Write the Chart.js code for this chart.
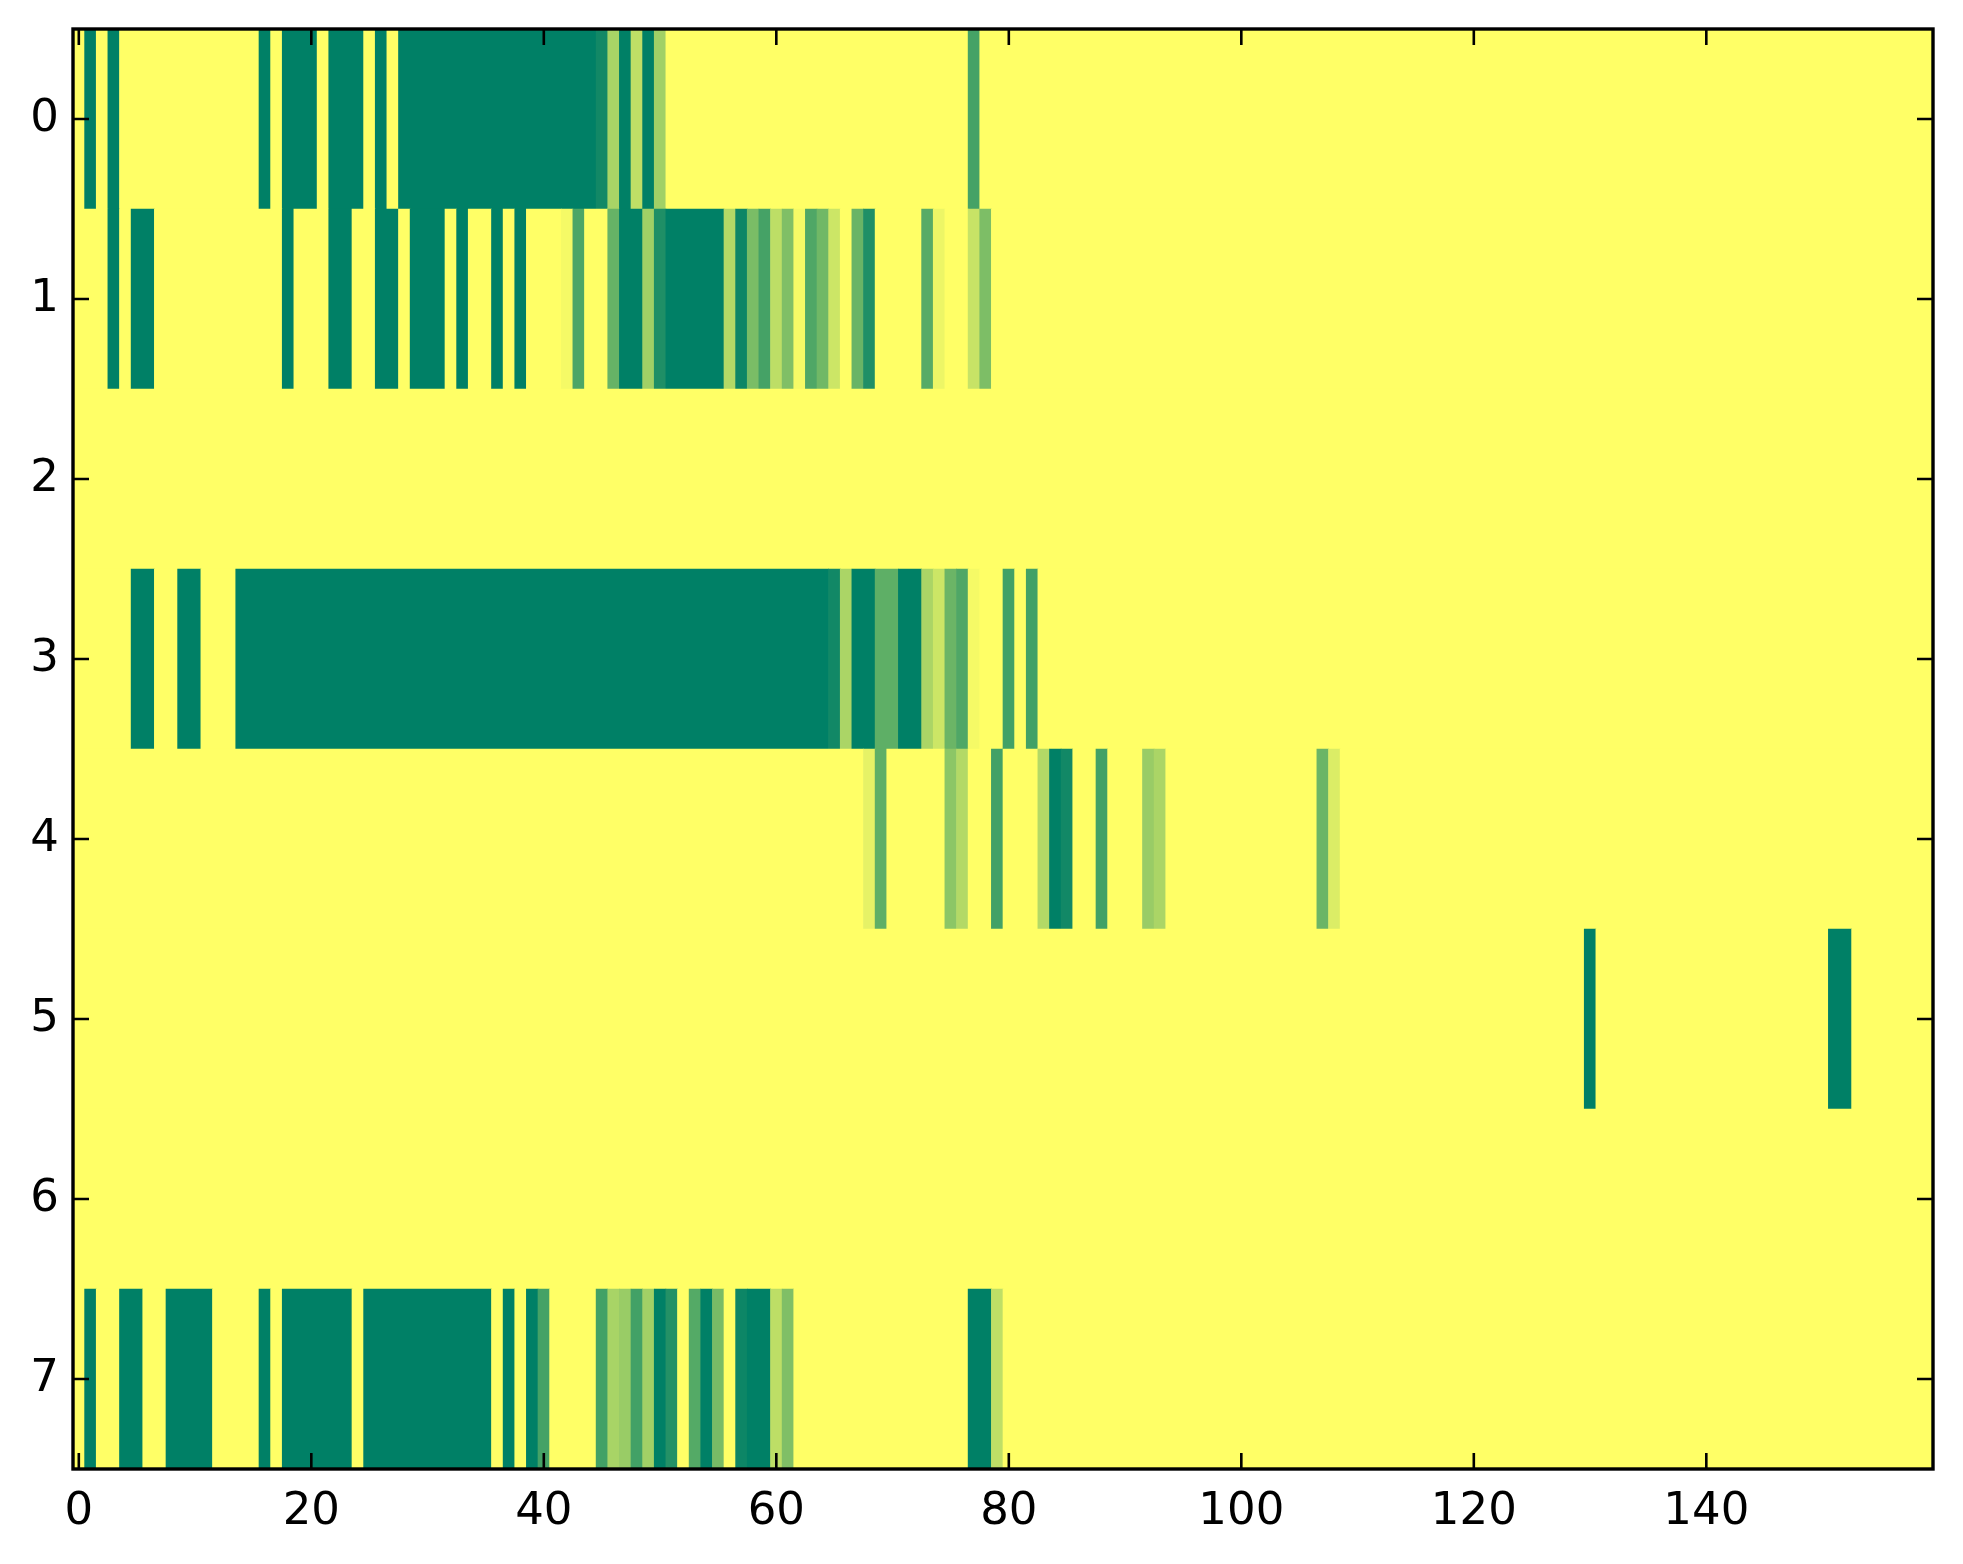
<!DOCTYPE html>
<html>
<head>
<meta charset="utf-8">
<script src="https://cdn.jsdelivr.net/npm/chart.js@4.4.1/dist/chart.umd.min.js"></script>
<style>
  html, body { margin: 0; padding: 0; background: #fff; }
  canvas { display: block; }
</style>
</head>
<body>
<canvas id="heat" width="1963" height="1564"></canvas>
<script>
const rowLabels = ['0', '1', '2', '3', '4', '5', '6', '7'];
const xTicks = [0, 20, 40, 60, 80, 100, 120, 140];

// cell values per row, 0 = dark green ... 1 = yellow (summer colormap)
const row0 = [
  1,0,1,0,1,1,1,1,1,1,1,1,1,1,1,1,0,1,0,0,
  0,1,0,0,0,1,0,1,0,0,0,0,0,0,0,0,0,0,0,0,
  0,0,0,0,0,0.07,0.66,0,0.75,0,0.63,1,1,1,1,1,1,1,1,1,
  1,1,1,1,1,1,1,1,1,1,1,1,1,1,1,1,1,0.27,1,1,
  1,1,1,1,1,1,1,1,1,1,1,1,1,1,1,1,1,1,1,1,
  1,1,1,1,1,1,1,1,1,1,1,1,1,1,1,1,1,1,1,1,
  1,1,1,1,1,1,1,1,1,1,1,1,1,1,1,1,1,1,1,1,
  1,1,1,1,1,1,1,1,1,1,1,1,1,1,1,1,1,1,1,1
];
const row1 = [
  1,1,1,0,1,0,0,1,1,1,1,1,1,1,1,1,1,1,0,1,
  1,1,0,0,1,1,0,0,1,0,0,0,1,0,1,1,0,1,0,1,
  1,1,0.96,0.3,1,1,0.4,0,0,0.63,0.12,0,0,0,0,0,0.7,0.05,0.48,0.27,
  0.74,0.5,0.96,0.31,0.44,0.8,1,0.41,0.12,1,1,1,1,0.34,0.93,1,1,0.78,0.49,1,
  1,1,1,1,1,1,1,1,1,1,1,1,1,1,1,1,1,1,1,1,
  1,1,1,1,1,1,1,1,1,1,1,1,1,1,1,1,1,1,1,1,
  1,1,1,1,1,1,1,1,1,1,1,1,1,1,1,1,1,1,1,1,
  1,1,1,1,1,1,1,1,1,1,1,1,1,1,1,1,1,1,1,1
];
const row2 = [
  1,1,1,1,1,1,1,1,1,1,1,1,1,1,1,1,1,1,1,1,
  1,1,1,1,1,1,1,1,1,1,1,1,1,1,1,1,1,1,1,1,
  1,1,1,1,1,1,1,1,1,1,1,1,1,1,1,1,1,1,1,1,
  1,1,1,1,1,1,1,1,1,1,1,1,1,1,1,1,1,1,1,1,
  1,1,1,1,1,1,1,1,1,1,1,1,1,1,1,1,1,1,1,1,
  1,1,1,1,1,1,1,1,1,1,1,1,1,1,1,1,1,1,1,1,
  1,1,1,1,1,1,1,1,1,1,1,1,1,1,1,1,1,1,1,1,
  1,1,1,1,1,1,1,1,1,1,1,1,1,1,1,1,1,1,1,1
];
const row3 = [
  1,1,1,1,1,0,0,1,1,0,0,1,1,1,0,0,0,0,0,0,
  0,0,0,0,0,0,0,0,0,0,0,0,0,0,0,0,0,0,0,0,
  0,0,0,0,0,0,0,0,0,0,0,0,0,0,0,0,0,0,0,0,
  0,0,0,0,0,0.07,0.67,0,0,0.37,0.37,0,0,0.67,0.8,0.42,0.31,0.96,1,1,
  0.26,1,0.26,1,1,1,1,1,1,1,1,1,1,1,1,1,1,1,1,1,
  1,1,1,1,1,1,1,1,1,1,1,1,1,1,1,1,1,1,1,1,
  1,1,1,1,1,1,1,1,1,1,1,1,1,1,1,1,1,1,1,1,
  1,1,1,1,1,1,1,1,1,1,1,1,1,1,1,1,1,1,1,1
];
const row4 = [
  1,1,1,1,1,1,1,1,1,1,1,1,1,1,1,1,1,1,1,1,
  1,1,1,1,1,1,1,1,1,1,1,1,1,1,1,1,1,1,1,1,
  1,1,1,1,1,1,1,1,1,1,1,1,1,1,1,1,1,1,1,1,
  1,1,1,1,1,1,1,1,0.9,0.37,1,1,1,1,1,0.55,0.7,1,1,0.26,
  1,1,1,0.7,0,0.07,1,1,0.26,1,1,1,0.6,0.67,1,1,1,1,1,1,
  1,1,1,1,1,1,1,0.42,0.86,1,1,1,1,1,1,1,1,1,1,1,
  1,1,1,1,1,1,1,1,1,1,1,1,1,1,1,1,1,1,1,1,
  1,1,1,1,1,1,1,1,1,1,1,1,1,1,1,1,1,1,1,1
];
const row5 = [
  1,1,1,1,1,1,1,1,1,1,1,1,1,1,1,1,1,1,1,1,
  1,1,1,1,1,1,1,1,1,1,1,1,1,1,1,1,1,1,1,1,
  1,1,1,1,1,1,1,1,1,1,1,1,1,1,1,1,1,1,1,1,
  1,1,1,1,1,1,1,1,1,1,1,1,1,1,1,1,1,1,1,1,
  1,1,1,1,1,1,1,1,1,1,1,1,1,1,1,1,1,1,1,1,
  1,1,1,1,1,1,1,1,1,1,1,1,1,1,1,1,1,1,1,1,
  1,1,1,1,1,1,1,1,1,1,0,1,1,1,1,1,1,1,1,1,
  1,1,1,1,1,1,1,1,1,1,1,0,0,1,1,1,1,1,1,1
];
const row6 = [
  1,1,1,1,1,1,1,1,1,1,1,1,1,1,1,1,1,1,1,1,
  1,1,1,1,1,1,1,1,1,1,1,1,1,1,1,1,1,1,1,1,
  1,1,1,1,1,1,1,1,1,1,1,1,1,1,1,1,1,1,1,1,
  1,1,1,1,1,1,1,1,1,1,1,1,1,1,1,1,1,1,1,1,
  1,1,1,1,1,1,1,1,1,1,1,1,1,1,1,1,1,1,1,1,
  1,1,1,1,1,1,1,1,1,1,1,1,1,1,1,1,1,1,1,1,
  1,1,1,1,1,1,1,1,1,1,1,1,1,1,1,1,1,1,1,1,
  1,1,1,1,1,1,1,1,1,1,1,1,1,1,1,1,1,1,1,1
];
const row7 = [
  1,0,1,1,0,0,1,1,0,0,0,0,1,1,1,1,0,1,0,0,
  0,0,0,0,1,0,0,0,0,0,0,0,0,0,0,0,1,0,1,0,
  0.27,1,1,1,1,0.26,0.66,0.6,0.26,0.63,0,0.14,1,0.33,0,0.47,1,0.05,0,0,
  0.74,0.5,1,1,1,1,1,1,1,1,1,1,1,1,1,1,1,0,0,0.75,
  1,1,1,1,1,1,1,1,1,1,1,1,1,1,1,1,1,1,1,1,
  1,1,1,1,1,1,1,1,1,1,1,1,1,1,1,1,1,1,1,1,
  1,1,1,1,1,1,1,1,1,1,1,1,1,1,1,1,1,1,1,1,
  1,1,1,1,1,1,1,1,1,1,1,1,1,1,1,1,1,1,1,1
];
const rows = [row0, row1, row2, row3, row4, row5, row6, row7];

function summer(t) {
  return 'rgb(' + Math.round(255 * t) + ',' + Math.round(255 * (0.5 + 0.5 * t)) + ',102)';
}

// merge neighbouring equal cells of a row into one floating bar
const cells = [];
const cellColors = [];
rows.forEach((vals, r) => {
  let start = 0;
  for (let c = 1; c <= vals.length; c++) {
    if (c === vals.length || vals[c] !== vals[start]) {
      cells.push({ x: [start - 0.5, c - 0.5], y: rowLabels[r] });
      cellColors.push(summer(vals[start]));
      start = c;
    }
  }
});

const frameTicks = {
  id: 'frameTicks',
  afterDraw(chart) {
    const { ctx, chartArea: a, scales: { x, y } } = chart;
    ctx.save();
    ctx.strokeStyle = '#000';
    ctx.lineWidth = 2.6;
    ctx.beginPath();
    xTicks.forEach(v => {
      const px = x.getPixelForValue(v);
      ctx.moveTo(px, a.bottom); ctx.lineTo(px, a.bottom - 16);
      ctx.moveTo(px, a.top); ctx.lineTo(px, a.top + 16);
    });
    rowLabels.forEach((_, i) => {
      const py = y.getPixelForValue(i);
      ctx.moveTo(a.left, py); ctx.lineTo(a.left + 16, py);
      ctx.moveTo(a.right, py); ctx.lineTo(a.right - 16, py);
    });
    ctx.stroke();
    ctx.lineWidth = 3.4;
    ctx.strokeRect(a.left, a.top, a.right - a.left, a.bottom - a.top);
    ctx.restore();
  }
};

const font = { family: 'DejaVu Sans', size: 45 };

new Chart(document.getElementById('heat').getContext('2d'), {
  type: 'bar',
  data: {
    labels: rowLabels,
    datasets: [{
      data: cells,
      backgroundColor: cellColors,
      borderWidth: 0,
      categoryPercentage: 1,
      barPercentage: 1
    }]
  },
  options: {
    indexAxis: 'y',
    responsive: false,
    animation: false,
    devicePixelRatio: 1,
    layout: { padding: { top: 29, right: 30, left: 0, bottom: 0 } },
    plugins: { legend: { display: false }, tooltip: { enabled: false } },
    scales: {
      x: {
        type: 'linear',
        min: -0.5,
        max: 159.5,
        afterBuildTicks: s => { s.ticks = xTicks.map(v => ({ value: v })); },
        afterFit: s => { s.height = 95; s.paddingLeft = 0; s.paddingRight = 0; },
        grid: { display: false, drawTicks: false },
        border: { display: false },
        ticks: { color: '#000', font, padding: 16, maxRotation: 0, autoSkip: false }
      },
      y: {
        type: 'category',
        afterFit: s => { s.width = 73; s.paddingTop = 0; s.paddingBottom = 0; },
        grid: { display: false, drawTicks: false },
        border: { display: false },
        ticks: { color: '#000', font, padding: 14 }
      }
    }
  },
  plugins: [frameTicks]
});
</script>
</body>
</html>
